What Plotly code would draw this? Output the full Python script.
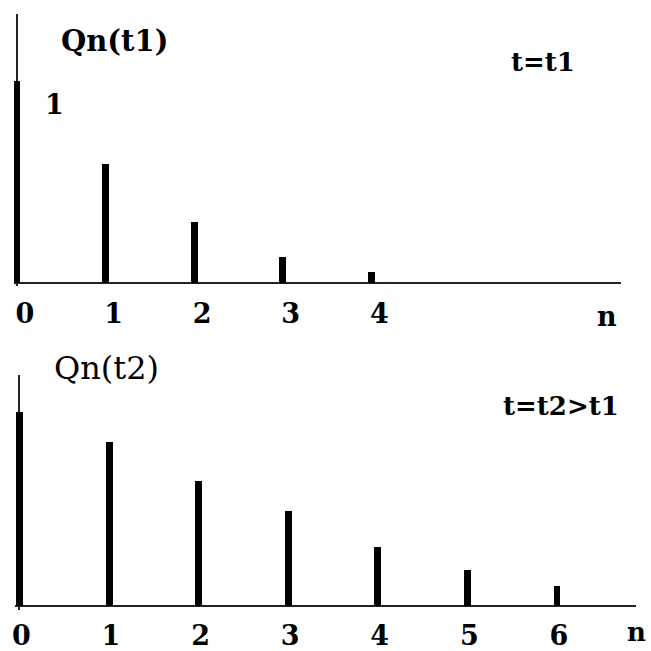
import plotly.graph_objects as go

# Occupation numbers n and the two distributions Qn(t1), Qn(t2)
n_t1 = [0, 1, 2, 3, 4]
q_t1 = [1.00, 0.59, 0.30, 0.13, 0.055]

n_t2 = [0, 1, 2, 3, 4, 5, 6]
q_t2 = [0.96, 0.81, 0.62, 0.47, 0.29, 0.18, 0.10]

tick_labels_t1 = ["0", "1", "2", "3", "4"]
tick_labels_t2 = ["0", "1", "2", "3", "4", "5", "6"]

W = H = 651
SERIF = "DejaVu Serif"


def px_x(p):
    return p / W


def px_y(p):
    return 1 - p / H


def panel_axes(x_left, x_right, x0, dx, y_top, y_bottom, y0, dy):
    """Axis ranges so that data x=0 sits at pixel x0 and y=0 at pixel y0."""
    xr = [(x_left - x0) / dx, (x_right - x0) / dx]
    yr = [(y0 - y_bottom) / dy, (y0 - y_top) / dy]
    return xr, yr


SCALE_Y = 202.0  # pixels per unit of Q
xr1, yr1 = panel_axes(11, 621, 14, 89.0, 14, 286, 283, SCALE_Y)
xr2, yr2 = panel_axes(12, 636, 16.5, 90.0, 375, 610, 606, SCALE_Y)

bar_w1 = 7 / 89.0
bar_w2 = 7 / 90.0

fig = go.Figure()
fig.add_trace(go.Bar(x=n_t1, y=q_t1, width=bar_w1, marker=dict(color="black", line=dict(width=0)),
                     xaxis="x", yaxis="y", showlegend=False))
fig.add_trace(go.Bar(x=n_t2, y=q_t2, width=bar_w2, marker=dict(color="black", line=dict(width=0)),
                     xaxis="x2", yaxis="y2", showlegend=False))

tick_font = dict(family=SERIF, size=27, color="black")
axis_common = dict(showgrid=False, showline=False, ticks="", zeroline=True,
                   zerolinecolor="#222", zerolinewidth=2, fixedrange=True)

fig.update_layout(
    width=W, height=H,
    margin=dict(l=0, r=0, t=0, b=0),
    paper_bgcolor="white", plot_bgcolor="white",
    bargap=0,
    xaxis=dict(domain=[px_x(11), px_x(621)], range=xr1, anchor="y",
               tickvals=n_t1, ticktext=["<b>%s</b>" % t for t in tick_labels_t1],
               tickfont=tick_font, ticklabelshift=8, ticklabelstandoff=9, **axis_common),
    yaxis=dict(domain=[px_y(286), px_y(14)], range=yr1, anchor="x",
               showticklabels=False, **axis_common),
    xaxis2=dict(domain=[px_x(12), px_x(636)], range=xr2, anchor="y2",
                tickvals=n_t2, ticktext=["<b>%s</b>" % t for t in tick_labels_t2],
                tickfont=tick_font, ticklabelshift=2, ticklabelstandoff=7, **axis_common),
    yaxis2=dict(domain=[px_y(610), px_y(375)], range=yr2, anchor="x2",
                showticklabels=False, **axis_common),
)


def label(text, cx, cy, size=27, bold=True):
    fig.add_annotation(
        text=("<b>%s</b>" % text) if bold else text,
        x=px_x(cx), y=px_y(cy), xref="paper", yref="paper",
        xanchor="center", yanchor="middle", showarrow=False,
        font=dict(family=SERIF, size=size, color="black"),
    )


# Upper panel
label("Qn(t1)", 112, 41, size=29)
label("1", 52, 104, size=27)
label("t=t1", 543, 62, size=26)
label("n", 607, 316, size=27)

# Lower panel
label("Qn(t2)", 104, 368, size=32, bold=False)
label("t=t2&gt;t1", 561, 406, size=26)
label("n", 636, 632, size=26)

fig.write_html("out.html")
